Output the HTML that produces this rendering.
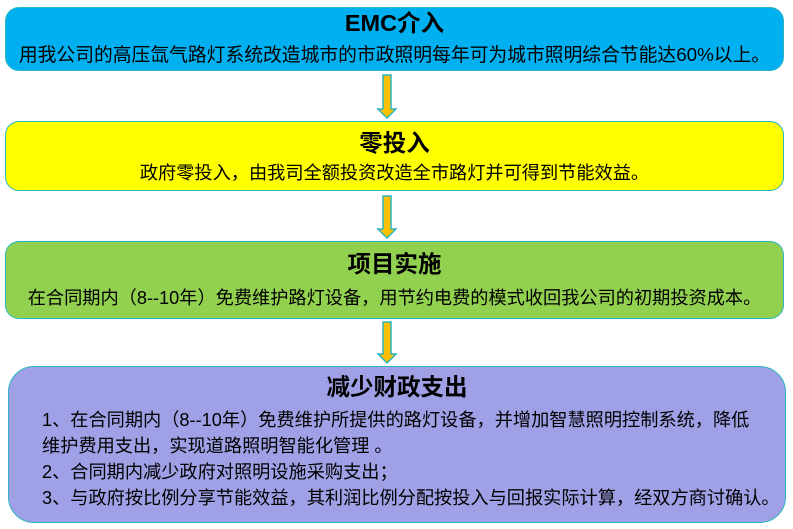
<!DOCTYPE html>
<html><head><meta charset="utf-8"><style>
body{margin:0;width:793px;height:529px;background:#fff;position:relative;overflow:hidden;font-family:"Liberation Sans","Noto Sans CJK SC",sans-serif;color:#000}
.b{position:absolute;left:5px;width:779px;border:1.5px solid #2bb5c0;border-radius:14px;box-sizing:border-box}
.t{position:absolute;left:0;right:0;text-align:center;font-weight:bold;font-size:23.5px;line-height:26px;white-space:nowrap}
.s{position:absolute;left:0;right:0;text-align:center;font-size:18.2px;line-height:24px;white-space:nowrap}
.arr{position:absolute}
</style></head><body>
<div class="b" style="top:7px;height:64px;background:#00b0f0">
<div class="t" style="top:2px">EMC介入</div>
<div class="s" style="top:35px;font-size:18.8px">用我公司的高压氙气路灯系统改造城市的市政照明每年可为城市照明综合节能达60%以上。</div></div>
<div class="b" style="top:121px;height:70px;background:#ffff00">
<div class="t" style="top:8px">零投入</div>
<div class="s" style="top:39px">政府零投入，由我司全额投资改造全市路灯并可得到节能效益。</div></div>
<div class="b" style="top:241px;height:78px;background:#92d050">
<div class="t" style="top:9px">项目实施</div>
<div class="s" style="top:44px">在合同期内（8--10年）免费维护路灯设备，用节约电费的模式收回我公司的初期投资成本。</div></div>
<div class="b" style="top:366px;left:8px;width:778px;height:157px;background:#a0a0e6;border-radius:26px">
<div class="t" style="top:7px">减少财政支出</div>
<div style="position:absolute;left:33px;top:40px;font-size:18.2px;line-height:26px;white-space:nowrap">1、在合同期内（8--10年）免费维护所提供的路灯设备，并增加智慧照明控制系统，降低<br>维护费用支出，实现道路照明智能化管理 。<br>2、合同期内减少政府对照明设施采购支出；<br>3、与政府按比例分享节能效益，其利润比例分配按投入与回报实际计算，经双方商讨确认。</div></div>
<svg class="arr" style="left:0;top:0" width="793" height="529">
<g fill="#ffc000" stroke="#2bb5c0" stroke-width="1.5">
<path d="M383 75H391V109H396L387 118L378 109H383Z"/>
<path d="M383 196H391V229H396L387 238L378 229H383Z"/>
<path d="M383 322H391V354H396L387 363L378 354H383Z"/>
</g></svg>
</body></html>
